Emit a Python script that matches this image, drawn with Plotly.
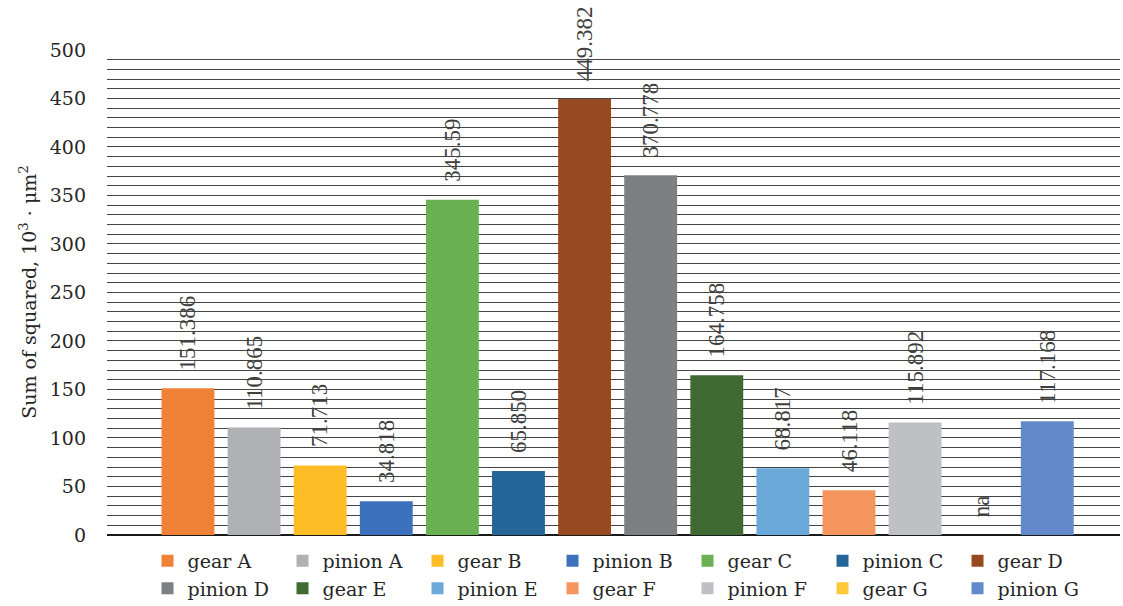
import plotly.graph_objects as go

categories = ["gear A", "pinion A", "gear B", "pinion B", "gear C", "pinion C", "gear D",
              "pinion D", "gear E", "pinion E", "gear F", "pinion F", "gear G", "pinion G"]
values = [151.386, 110.865, 71.713, 34.818, 345.59, 65.850, 449.382,
          370.778, 164.758, 68.817, 46.118, 115.892, None, 117.168]
labels = ["151.386", "110.865", "71.713", "34.818", "345.59", "65.850", "449.382",
          "370.778", "164.758", "68.817", "46.118", "115.892", "na", "117.168"]
colors = ["#F08238", "#B0B1B4", "#FCBD26", "#3C71BE", "#6AB154", "#256597", "#974A1F",
          "#7E7F83", "#3F6A31", "#6CA9DB", "#F4965E", "#BFC0C4", "#FFC939", "#628ACA"]
yticks = [0, 50, 100, 150, 200, 250, 300, 350, 400, 450, 500]

serif = "DejaVu Serif"
label_font = "Liberation Serif"

fig = go.Figure()
for i, (c, v, col) in enumerate(zip(categories, values, colors)):
    fig.add_trace(go.Bar(
        x=[i], y=[v if v is not None else 0], name=c,
        marker=dict(color=col, line=dict(width=0)),
        width=0.8, showlegend=True, hoverinfo="skip",
    ))
    fig.add_annotation(
        x=i, y=(v if v is not None else 0), text=labels[i], textangle=-90,
        showarrow=False, yanchor="bottom", xanchor="center", yshift=16,
        font=dict(family=label_font, size=23, color="#404040"),
    )

fig.update_layout(
    width=1123, height=606,
    margin=dict(l=107, r=3, t=49, b=71, autoexpand=False),
    paper_bgcolor="white", plot_bgcolor="white",
    barmode="overlay",
    font=dict(family=serif, size=19, color="#262626"),
    legend=dict(
        orientation="h", x=0.040, y=-0.014, xanchor="left", yanchor="top",
        entrywidth=90, entrywidthmode="pixels",
        font=dict(family=serif, size=19, color="#262626"),
        itemwidth=30, tracegroupgap=0, traceorder="normal",
    ),
    xaxis=dict(
        range=[-1.225, 14.1], showticklabels=False, showgrid=False,
        zeroline=False, showline=False, ticks="",
    ),
    yaxis=dict(
        range=[0, 501], tickvals=yticks, showgrid=True, gridcolor="#444444", gridwidth=1,
        minor=dict(dtick=10, showgrid=True, gridcolor="#444444", gridwidth=1),
        zeroline=True, zerolinecolor="#1a1a1a", zerolinewidth=1.5,
        ticks="", ticklabelstandoff=20,
        tickfont=dict(family=serif, size=19, color="#262626"),
        title=dict(text="Sum of squared, 10<sup>3</sup> · μm<sup>2</sup>",
                   font=dict(family=serif, size=19, color="#262626"), standoff=8),
    ),
)

fig.write_html("out.html", config={"displayModeBar": False},
               post_script="document.body.style.margin='0';")
